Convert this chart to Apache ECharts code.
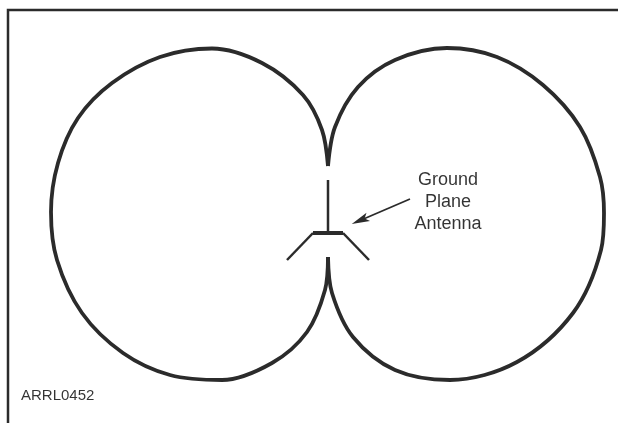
<!DOCTYPE html>
<html>
<head>
<meta charset="utf-8">
<title>Ground Plane Antenna</title>
<script src="https://cdn.jsdelivr.net/npm/echarts@6/dist/echarts.min.js"></script>
<style>
  html, body { margin: 0; padding: 0; background: #fff; }
  #chart { width: 618px; height: 423px; }
</style>
</head>
<body>
<div id="chart"></div>
<script>
// all values, in picture units
const leftLobe = [[328, 166], [322, 130], [303, 95], [262, 63], [212, 48.5], [160, 57], [112, 83], [78, 118], [58, 163], [51, 212], [57, 260], [82, 313], [123, 353], [170, 375], [222, 380], [272, 363], [307, 332], [325, 290], [328, 257]]
const rightLobe = [[328, 166], [335, 127], [358, 87], [395, 60], [447, 48], [497, 57], [543, 85], [580, 127], [600, 177], [604, 213], [601, 250], [573, 313], [517, 362], [450, 380], [395, 370], [353, 337], [332, 293], [328, 257]]
const frameLine = [[8, 423], [8, 10], [618, 10]]
const mast = [[328, 180], [328, 233]]
const groundPlate = [[313, 233], [343, 233]]
const radialLeft = [[313, 233], [287, 260]]
const radialRight = [[343, 233], [369, 260]]
const arrowLine = [[410, 199], [360, 220.5]]
const antennaLabels = [['Ground', 448, 180], ['Plane', 448, 202], ['Antenna', 448, 224]]
const figureLabel = ['ARRL0452', 21, 396]

const ink = '#2b2b2b'
// slim notched head, the two empty subpaths keep the box square
const arrowHead = 'path://M0 -9L4.5 9L0 5L-4.5 9ZM-9 0L-9 0ZM9 0L9 0Z'

function stroke(data, width, smooth) {
  return {
    type: 'line',
    data: data,
    smooth: smooth || false,
    smoothConstraint: false,
    showSymbol: false,
    silent: true,
    animation: false,
    lineStyle: { color: ink, width: width, cap: 'butt', join: 'miter' }
  }
}

function textSeries(items, size, position) {
  return {
    type: 'scatter',
    symbolSize: 0,
    silent: true,
    animation: false,
    data: items.map(function(t) { return { value: [t[1], t[2]], name: t[0] } }),
    label: {
      show: true,
      position: position,
      distance: 0,
      formatter: '{b}',
      color: '#000',
      fontFamily: 'Liberation Sans',
      fontSize: size
    }
  }
}

const chart = echarts.init(document.getElementById('chart'), null, { renderer: 'canvas' })
chart.setOption({
  backgroundColor: '#fff',
  animation: false,
  grid: { left: 0, right: 0, top: 0, bottom: 0 },
  xAxis: { type: 'value', min: 0, max: 618, show: false },
  yAxis: { type: 'value', min: 0, max: 423, inverse: true, show: false },
  series: [
    stroke(frameLine, 2.5),
    stroke(leftLobe, 3.8, 0.33),
    stroke(rightLobe, 3.8, 0.33),
    stroke(mast, 2.5),
    stroke(groundPlate, 4),
    stroke(radialLeft, 2.5),
    stroke(radialRight, 2.5),
    {
      type: 'lines',
      coordinateSystem: 'cartesian2d',
      silent: true,
      animation: false,
      symbol: ['none', arrowHead],
      symbolSize: 18,
      lineStyle: { color: ink, width: 1.8, opacity: 1, curveness: 0 },
      data: [{ coords: arrowLine }]
    },
    textSeries(antennaLabels, 18, 'inside'),
    textSeries([figureLabel], 15, 'right')
  ]
})
</script>
</body>
</html>
